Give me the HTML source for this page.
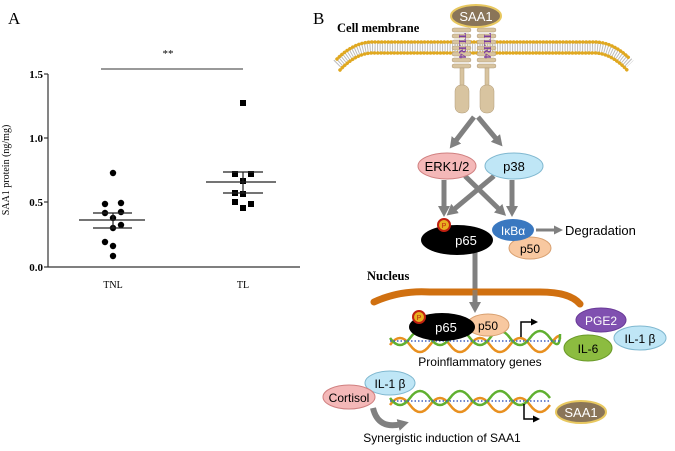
<!DOCTYPE html>
<html><head><meta charset="utf-8"><style>
html,body{margin:0;padding:0;background:#fff;}
svg{display:block;}
.s{font-family:"Liberation Serif",serif;}
.a{font-family:"Liberation Sans",sans-serif;}
</style></head><body>
<svg width="675" height="451" viewBox="0 0 675 451" xmlns="http://www.w3.org/2000/svg">
<defs>
<marker id="ah" markerWidth="12" markerHeight="12" refX="4" refY="6" orient="auto" markerUnits="userSpaceOnUse"><path d="M0,0 L11,6 L0,12 Z" fill="#808080"/></marker>
<marker id="ah2" markerWidth="9" markerHeight="9" refX="2" refY="4.5" orient="auto" markerUnits="userSpaceOnUse"><path d="M0,0 L9,4.5 L0,9 Z" fill="#808080"/></marker>
<marker id="bk" markerWidth="7" markerHeight="7" refX="1" refY="3.5" orient="auto" markerUnits="userSpaceOnUse"><path d="M0,0 L7,3.5 L0,7 Z" fill="#000"/></marker>
</defs>
<!-- Panel A -->
<text x="8" y="24" class="s" font-size="17">A</text>
<line x1="48" y1="74" x2="48" y2="267" stroke="#333" stroke-width="1.2"/>
<line x1="48" y1="267" x2="300" y2="267" stroke="#333" stroke-width="1.2"/>
<g stroke="#333" stroke-width="1.2"><line x1="44" y1="74" x2="48" y2="74"/><line x1="44" y1="138" x2="48" y2="138"/><line x1="44" y1="202" x2="48" y2="202"/><line x1="44" y1="267" x2="48" y2="267"/></g>
<g class="s" font-size="11" font-weight="bold" text-anchor="end"><text x="43" y="78">1.5</text><text x="43" y="142">1.0</text><text x="43" y="206">0.5</text><text x="43" y="271">0.0</text></g>
<text transform="translate(9,170) rotate(-90)" class="s" font-size="10" text-anchor="middle">SAA1 protein (ng/mg)</text>
<text x="113" y="288" class="s" font-size="10" text-anchor="middle">TNL</text>
<text x="243" y="288" class="s" font-size="10" text-anchor="middle">TL</text>
<line x1="101" y1="69" x2="243" y2="69" stroke="#333" stroke-width="1"/>
<text x="168" y="57" class="s" font-size="11" text-anchor="middle">**</text>
<g fill="#000">
<circle cx="113" cy="173" r="3.2"/><circle cx="105" cy="204" r="3.2"/><circle cx="121" cy="203" r="3.2"/><circle cx="105" cy="213" r="3.2"/><circle cx="113" cy="218" r="3.2"/><circle cx="121" cy="212" r="3.2"/><circle cx="113" cy="228" r="3.2"/><circle cx="121" cy="225" r="3.2"/><circle cx="105" cy="242" r="3.2"/><circle cx="113" cy="246" r="3.2"/><circle cx="113" cy="256" r="3.2"/>
<rect x="240" y="100" width="6" height="6"/><rect x="232" y="171" width="6" height="6"/><rect x="248" y="171" width="6" height="6"/><rect x="240" y="178" width="6" height="6"/><rect x="232" y="190" width="6" height="6"/><rect x="240" y="191" width="6" height="6"/><rect x="232" y="199" width="6" height="6"/><rect x="248" y="201" width="6" height="6"/><rect x="240" y="205" width="6" height="6"/>
</g>
<g stroke="#222" stroke-width="1.2">
<line x1="79" y1="220" x2="145" y2="220"/><line x1="93" y1="213" x2="132" y2="213"/><line x1="93" y1="228" x2="132" y2="228"/><line x1="113" y1="213" x2="113" y2="228"/>
<line x1="206" y1="182" x2="276" y2="182"/><line x1="223" y1="172" x2="263" y2="172"/><line x1="223" y1="193" x2="263" y2="193"/><line x1="243" y1="172" x2="243" y2="193"/>
</g>
<!-- Panel B -->
<text x="313" y="24" class="s" font-size="17">B</text>
<text x="337" y="32" class="s" font-size="12.5" font-weight="bold">Cell membrane</text>
<path d="M337,64 Q355,46 375,47 L592,47 Q612,46 630,64" fill="none" stroke="#bbb" stroke-width="10" stroke-dasharray="1 1.5"/>
<path d="M337,59 Q355,41 375,42 L592,42 Q612,41 630,59" fill="none" stroke="#e0a820" stroke-width="3.5" stroke-dasharray="0.1 3.2" stroke-linecap="round"/>
<path d="M340,70 Q357,52 375,53 L592,53 Q610,52 627,70" fill="none" stroke="#e0a820" stroke-width="3.5" stroke-dasharray="0.1 3.2" stroke-linecap="round"/>
<g fill="#d8c4a0" stroke="#b09a78" stroke-width="0.5">
<rect x="452" y="28" width="19" height="4" rx="2"/><rect x="452" y="34" width="19" height="4" rx="2"/><rect x="452" y="40" width="19" height="4" rx="2"/><rect x="452" y="46" width="19" height="4" rx="2"/><rect x="452" y="52" width="19" height="4" rx="2"/><rect x="452" y="58" width="19" height="4" rx="2"/><rect x="452" y="64" width="19" height="4" rx="2"/>
<rect x="477" y="28" width="19" height="4" rx="2"/><rect x="477" y="34" width="19" height="4" rx="2"/><rect x="477" y="40" width="19" height="4" rx="2"/><rect x="477" y="46" width="19" height="4" rx="2"/><rect x="477" y="52" width="19" height="4" rx="2"/><rect x="477" y="58" width="19" height="4" rx="2"/><rect x="477" y="64" width="19" height="4" rx="2"/>
<rect x="460" y="68" width="4" height="18"/><rect x="485" y="68" width="4" height="18"/>
<rect x="455" y="85" width="14" height="28" rx="6"/><rect x="480" y="85" width="14" height="28" rx="6"/>
</g>
<text transform="translate(459,33) rotate(90)" class="s" font-size="10" fill="#7a3aa0" font-weight="bold">TLR4</text>
<text transform="translate(484,33) rotate(90)" class="s" font-size="10" fill="#7a3aa0" font-weight="bold">TLR4</text>
<ellipse cx="476" cy="16" rx="25" ry="11" fill="#8a7558" stroke="#e8c860" stroke-width="2"/>
<text x="476" y="21" class="a" font-size="13" fill="#fff" text-anchor="middle">SAA1</text>
<g stroke="#808080" stroke-width="5" fill="none">
<line x1="474" y1="117" x2="454" y2="143" marker-end="url(#ah)"/>
<line x1="478" y1="117" x2="498" y2="141" marker-end="url(#ah)"/>
<line x1="444" y1="180" x2="444" y2="210" marker-end="url(#ah)"/>
<line x1="512" y1="180" x2="512" y2="210" marker-end="url(#ah)"/>
<line x1="494" y1="176" x2="452" y2="211" marker-end="url(#ah)"/>
<line x1="465" y1="176" x2="501" y2="211" marker-end="url(#ah)"/>
<line x1="475" y1="250" x2="475" y2="306" marker-end="url(#ah)"/>
<line x1="536" y1="230" x2="556" y2="230" stroke-width="3" marker-end="url(#ah2)"/>
</g>
<ellipse cx="447" cy="166" rx="29" ry="13" fill="#f4b8b8" stroke="#d08080"/>
<text x="447" y="171" class="a" font-size="13" text-anchor="middle">ERK1/2</text>
<ellipse cx="514" cy="166" rx="29" ry="13" fill="#bfe6f6" stroke="#80b8d0"/>
<text x="514" y="171" class="a" font-size="13" text-anchor="middle">p38</text>
<ellipse cx="530" cy="248" rx="21" ry="11" fill="#f8c8a0" stroke="#d8a070"/>
<text x="530" y="253" class="a" font-size="12" text-anchor="middle">p50</text>
<ellipse cx="457" cy="240" rx="36" ry="15" fill="#000"/>
<text x="466" y="245" class="a" font-size="13" fill="#fff" text-anchor="middle">p65</text>
<circle cx="444" cy="225" r="6" fill="#e8b020" stroke="#c02010" stroke-width="2"/>
<text x="444" y="228" class="a" font-size="7" fill="#c02010" text-anchor="middle">P</text>
<ellipse cx="513" cy="230" rx="21" ry="11" fill="#3a78c0"/>
<text x="513" y="235" class="a" font-size="12" fill="#fff" text-anchor="middle">IκBα</text>
<text x="565" y="235" class="a" font-size="13">Degradation</text>
<text x="367" y="280" class="s" font-size="12.5" font-weight="bold">Nucleus</text>
<path d="M374,302 Q400,290 430,292 L540,292 Q570,292 580,304" fill="none" stroke="#d07010" stroke-width="7" stroke-linecap="round"/>
<line x1="475" y1="290" x2="475" y2="300" stroke="#808080" stroke-width="5" opacity="0.7"/>
<g fill="none" stroke-width="2.5">
<path d="M390,345 q10,-14 20,0 t20,0 t20,0 t20,0 t20,0 t20,0 t20,0 t20,0 t10,-6" stroke="#e89020"/>
<path d="M390,338 q10,14 20,0 t20,0 t20,0 t20,0 t20,0 t20,0 t20,0 t20,0 t10,-4" stroke="#60b030"/>
</g>
<g stroke="#4060c0" stroke-width="1.5" stroke-dasharray="1.5 2"><line x1="390" y1="341" x2="560" y2="341"/></g>
<ellipse cx="488" cy="325" rx="21" ry="11" fill="#f8c8a0" stroke="#d8a070"/>
<text x="488" y="330" class="a" font-size="12" text-anchor="middle">p50</text>
<ellipse cx="442" cy="327" rx="33" ry="14" fill="#000"/>
<text x="446" y="332" class="a" font-size="13" fill="#fff" text-anchor="middle">p65</text>
<circle cx="419" cy="317" r="6" fill="#e8b020" stroke="#c02010" stroke-width="2"/>
<text x="419" y="320" class="a" font-size="7" fill="#c02010" text-anchor="middle">P</text>
<path d="M521,337 L521,322 L532,322" fill="none" stroke="#000" stroke-width="1.5" marker-end="url(#bk)"/>
<text x="480" y="366" class="a" font-size="12" text-anchor="middle">Proinflammatory genes</text>
<ellipse cx="601" cy="320" rx="25" ry="12" fill="#8050b0" stroke="#6a3a98"/>
<text x="601" y="325" class="a" font-size="12" fill="#fff" text-anchor="middle">PGE2</text>
<ellipse cx="640" cy="338" rx="26" ry="12" fill="#bfe6f6" stroke="#80b8d0"/>
<text x="640" y="343" class="a" font-size="12" text-anchor="middle">IL-1 β</text>
<ellipse cx="588" cy="348" rx="24" ry="13" fill="#8cbc40" stroke="#6a9a28"/>
<text x="588" y="353" class="a" font-size="12" text-anchor="middle">IL-6</text>
<g fill="none" stroke-width="2.5">
<path d="M390,405 q10,-14 20,0 t20,0 t20,0 t20,0 t20,0 t20,0 t20,0 t20,0" stroke="#e89020"/>
<path d="M390,398 q10,14 20,0 t20,0 t20,0 t20,0 t20,0 t20,0 t20,0 t20,0" stroke="#60b030"/>
</g>
<g stroke="#4060c0" stroke-width="1.5" stroke-dasharray="1.5 2"><line x1="390" y1="401" x2="550" y2="401"/></g>
<path d="M524,404 L524,419 L534,419" fill="none" stroke="#000" stroke-width="1.5" marker-end="url(#bk)"/>
<ellipse cx="581" cy="412" rx="25" ry="11" fill="#8a7558" stroke="#e8c860" stroke-width="2"/>
<text x="581" y="417" class="a" font-size="13" fill="#fff" text-anchor="middle">SAA1</text>
<ellipse cx="390" cy="383" rx="25" ry="12" fill="#bfe6f6" stroke="#80b8d0"/>
<text x="390" y="388" class="a" font-size="12" text-anchor="middle">IL-1 β</text>
<ellipse cx="349" cy="397" rx="26" ry="12" fill="#f4b8b8" stroke="#d08080"/>
<text x="349" y="402" class="a" font-size="12" text-anchor="middle">Cortisol</text>
<path d="M373,408 Q378,430 402,424" fill="none" stroke="#808080" stroke-width="6" marker-end="url(#ah)"/>
<text x="442" y="442" class="a" font-size="12" text-anchor="middle">Synergistic induction of SAA1</text>
</svg>
</body></html>
